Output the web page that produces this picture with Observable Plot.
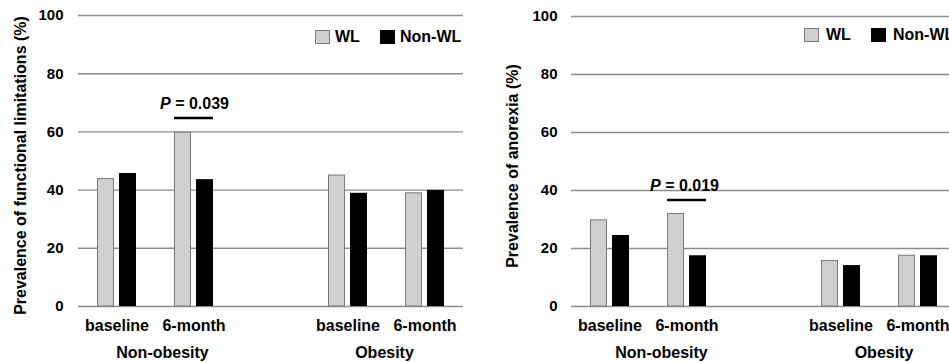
<!DOCTYPE html>
<html>
<head>
<meta charset="utf-8">
<script src="https://cdn.jsdelivr.net/npm/d3@7"></script>
<script src="https://cdn.jsdelivr.net/npm/@observablehq/plot@0.6"></script>
<style>
  html, body { margin: 0; padding: 0; background: #fff; overflow: hidden; }
  #wrap { position: relative; width: 949px; height: 362px; overflow: hidden; font-family: "Liberation Sans", Arial, sans-serif; }
  .panel { position: absolute; top: 0; }
  .legend { position: absolute; font-weight: bold; font-size: 16px; color: #000; line-height: 16px; }
  .sw { position: absolute; width: 13px; height: 12px; box-sizing: content-box; }
  .lt { position: absolute; white-space: nowrap; }
</style>
</head>
<body>
<div id="wrap"></div>
<script>
// ---- data ----
const categories = ["NO-baseline", "NO-6-month", "gap", "O-baseline", "O-6-month"];
const tickLabels = ["baseline", "6-month", "", "baseline", "6-month"];
const groupLabels = ["Non-obesity", "Obesity"];
const groupFirstCategory = ["NO-baseline", "O-baseline"];
const seriesNames = ["WL", "Non-WL"];
const yTicks = [0, 20, 40, 60, 80, 100];

const funcWL    = [43.8, 59.7, null, 45.0, 38.9];
const funcNonWL = [45.7, 43.6, null, 38.9, 39.9];
const anoWL     = [29.7, 31.9, null, 15.7, 17.5];
const anoNonWL  = [24.5, 17.5, null, 14.1, 17.5];

const funcTitle = "Prevalence of functional limitations (%)";
const anoTitle = "Prevalence of anorexia (%)";

const funcPText = "P = 0.039", funcPCategory = "NO-6-month", funcPLineY = 64.8, funcPTextY = 69.6;
const anoPText  = "P = 0.019", anoPCategory  = "NO-6-month", anoPLineY  = 36.7, anoPTextY  = 41.7;

const FONT = '"Liberation Sans", Arial, sans-serif';

function rows(vals) {
  return categories.map((c, i) => ({cat: c, v: vals[i]})).filter(d => d.v != null);
}

function makePanel(cfg) {
  const groupMarks = groupLabels.map((g, i) =>
    Plot.text([g], {x: () => groupFirstCategory[i], y: () => 0, text: d => d, dx: 38.5 + cfg.groupDx[i], dy: 46,
      fontSize: 16, fontWeight: "bold", lineAnchor: "middle", textAnchor: "middle", fill: "#000"})
  );
  const plot = Plot.plot({
    width: cfg.width,
    height: 362,
    marginLeft: cfg.marginLeft,
    marginRight: cfg.marginRight,
    marginTop: cfg.marginTop,
    marginBottom: 362 - 306,
    style: {fontFamily: FONT, fontWeight: "bold", fontSize: "15px", color: "#000", background: "transparent", overflow: "visible"},
    x: {type: "band", domain: categories, padding: 0, axis: null},
    y: {domain: [0, 100], axis: null},
    marks: [
      Plot.ruleY(yTicks, {stroke: "#8c8c8c", strokeWidth: 1.4}),
      Plot.barY(rows(cfg.wl), {x: "cat", y: "v", fill: "#d0d0d0", stroke: "#7a7a7a", strokeWidth: 1, insetLeft: 19.5, insetRight: 41.5}),
      Plot.barY(rows(cfg.nonwl), {x: "cat", y: "v", fill: "#000", insetLeft: 41, insetRight: 19}),
      Plot.axisY({ticks: yTicks, tickSize: 0, tickPadding: cfg.tickPad, fontSize: 15, fontWeight: "bold", label: null}),
      Plot.axisX({tickSize: 0, tickPadding: 13, fontSize: 16, fontWeight: "bold", label: null,
        tickFormat: d => tickLabels[categories.indexOf(d)]}),
      ...groupMarks,
      Plot.tickY([cfg.pLineY], {x: () => cfg.pCat, y: d => d, stroke: "#000", strokeWidth: 2.6, insetLeft: 19, insetRight: 19}),
      Plot.text([cfg.pText], {x: () => cfg.pCat, y: () => cfg.pTextY, text: d => d, fontSize: 16, fontWeight: "bold",
        lineAnchor: "middle", textAnchor: "middle", dx: cfg.pDx, fill: "#000"}),
      Plot.text([cfg.title], {frameAnchor: "left", text: d => d, rotate: -90, dx: cfg.titleDx, dy: 4.5,
        fontSize: 16, fontWeight: "bold", fill: "#000", lineAnchor: "middle", textAnchor: "middle"})
    ]
  });
  const svg = plot.tagName.toLowerCase() === "svg" ? plot : plot.querySelector("svg");
  svg.querySelectorAll("text").forEach(t => {
    if (t.textContent === cfg.pText) {
      const rest = cfg.pText.slice(1);
      t.textContent = "";
      const ns = "http://www.w3.org/2000/svg";
      const a = document.createElementNS(ns, "tspan");
      a.setAttribute("font-style", "italic");
      a.textContent = "P";
      const b = document.createElementNS(ns, "tspan");
      b.textContent = rest;
      t.appendChild(a); t.appendChild(b);
    }
  });
  return plot;
}

const wrap = document.getElementById("wrap");

const left = makePanel({
  width: 475, marginLeft: 78, marginRight: 12, marginTop: 15, tickPad: 15,
  wl: funcWL, nonwl: funcNonWL, title: funcTitle, titleDx: -58,
  pText: funcPText, pCat: funcPCategory, pLineY: funcPLineY, pTextY: funcPTextY, pDx: 0.5,
  groupDx: [7, -2]
});
left.classList.add("panel");
left.style.left = "0px";
wrap.appendChild(left);

const right = makePanel({
  width: 490, marginLeft: 96, marginRight: 9, marginTop: 16, tickPad: 14,
  wl: anoWL, nonwl: anoNonWL, title: anoTitle, titleDx: -59,
  pText: anoPText, pCat: anoPCategory, pLineY: anoPLineY, pTextY: anoPTextY, pDx: -2.5,
  groupDx: [13, 4.5]
});
right.classList.add("panel");
right.style.left = "475px";
wrap.appendChild(right);

// legends
function addLegend(x0, y0, gap2, textGap) {
  const lg = document.createElement("div");
  lg.className = "legend";
  lg.style.left = x0 + "px";
  lg.style.top = y0 + "px";
  const items = [
    {name: seriesNames[0], fill: "#d0d0d0", stroke: "#7a7a7a", off: 0},
    {name: seriesNames[1], fill: "#000", stroke: "#000", off: gap2}
  ];
  items.forEach(it => {
    const s = document.createElement("div");
    s.className = "sw";
    s.style.left = it.off + "px";
    s.style.top = "0px";
    s.style.background = it.fill;
    s.style.border = "1px solid " + it.stroke;
    lg.appendChild(s);
    const t = document.createElement("div");
    t.className = "lt";
    t.style.left = (it.off + textGap) + "px";
    t.style.top = "-1px";
    t.textContent = it.name;
    lg.appendChild(t);
  });
  wrap.appendChild(lg);
}
addLegend(315, 30, 65, 20);
addLegend(804, 28, 67, 22);
</script>
</body>
</html>
